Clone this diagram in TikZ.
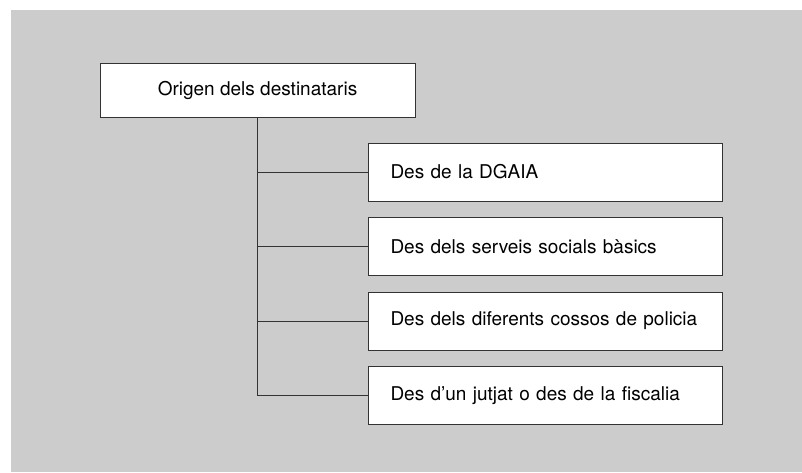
\documentclass[tikz,border=0pt]{standalone}
\usepackage{fontspec}
\setmainfont{TeX Gyre Heros}
\newcommand\branchx{368}

\begin{document}
\begin{tikzpicture}[x=1pt, y=-1pt,
    box/.style={draw=black!80, fill=white, line width=1pt, font=\fontsize{19}{22}\selectfont},
    childbox/.style={box, anchor=west, minimum width=354pt, minimum height=58pt,
        text width=310pt, inner xsep=22pt, align=left},
    link/.style={draw=black!80, line width=1pt}]
    \useasboundingbox (0,0) rectangle (802,472);
    \fill[black!20] (11,10) rectangle (802,472);

    \node[box, minimum width=315pt, minimum height=54pt] (root) at (257.5,90) {Origen dels destinataris};

    \node[childbox] (dgaia) at (\branchx,172) {Des de la DGAIA};
    \node[childbox] (social) at (\branchx,246.5) {Des dels serveis socials bàsics};
    \node[childbox] (policia) at (\branchx,321) {Des dels diferents cossos de policia};
    \node[childbox] (jutjat) at (\branchx,395.5) {Des d’un jutjat o des de la fiscalia};

    % spine and branches
    \foreach \child in {dgaia, social, policia, jutjat}
        \draw[link] (root.south) |- (\child.west);
\end{tikzpicture}
\end{document}
